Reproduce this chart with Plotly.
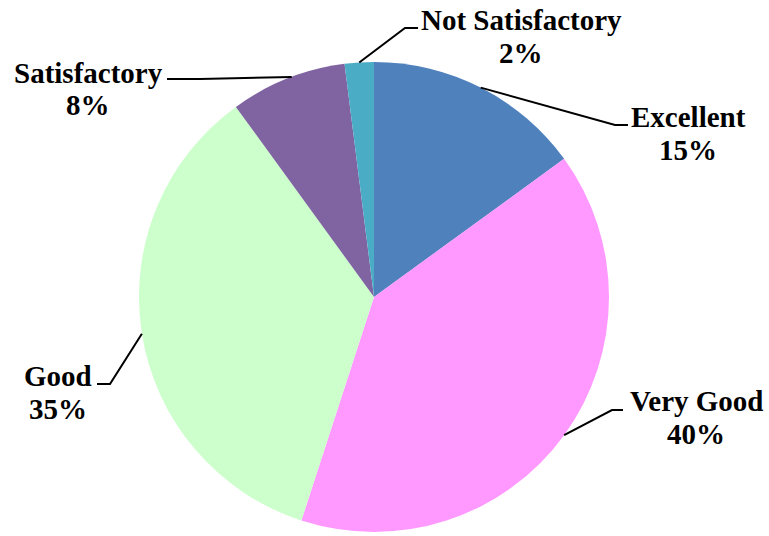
import math
import plotly.graph_objects as go

categories = ["Excellent", "Very Good", "Good", "Satisfactory", "Not Satisfactory"]
values = [15, 40, 35, 8, 2]
colors = ["#4F81BD", "#FF99FF", "#CCFFCC", "#8064A2", "#4BACC6"]

W, H = 769, 536
CX, CY, R = 374, 297, 235

# label layout (pixels): name centre, percent centre, elbow point, line end, anchor angle override
label_layout = {
    "Excellent":        dict(name=(688, 117), pct=(688, 150), elbow=(615, 125), end=(628, 125), ang=None),
    "Very Good":        dict(name=(696, 401), pct=(696, 434), elbow=(612, 410), end=(623, 410), ang=None),
    "Good":             dict(name=(58, 376),  pct=(58, 409),  elbow=(110, 384), end=(97, 384),  ang=None),
    "Satisfactory":     dict(name=(88, 73),   pct=(88, 105),  elbow=(200, 79),  end=(167, 79),  ang=339.5),
    "Not Satisfactory": dict(name=(521, 20),  pct=(521, 53),  elbow=(405, 28),  end=(418, 28),  ang=None),
}

def px2paper(x, y):
    return x / W, 1 - y / H

fig = go.Figure(go.Pie(
    labels=categories, values=values, sort=False, direction="clockwise", rotation=0,
    marker=dict(colors=colors, line=dict(width=0)),
    textinfo="none", hoverinfo="label+percent", showlegend=False,
    domain=dict(x=[(CX - R) / W, (CX + R) / W], y=[1 - (CY + R) / H, 1 - (CY - R) / H]),
))

font = dict(family="Liberation Serif", size=29, color="black")
total = sum(values)
cum = 0
annotations, shapes = [], []
for cat, v in zip(categories, values):
    mid = (cum + v / 2) / total * 360
    cum += v
    L = label_layout[cat]
    ang = L["ang"] if L["ang"] is not None else mid
    sx = CX + R * math.sin(math.radians(ang))
    sy = CY - R * math.cos(math.radians(ang))
    pts = [(sx, sy), L["elbow"], L["end"]]
    path = "M " + " L ".join(f"{px2paper(x, y)[0]},{px2paper(x, y)[1]}" for x, y in pts)
    shapes.append(dict(type="path", path=path, xref="paper", yref="paper",
                       line=dict(color="black", width=2)))
    pct = f"{round(v / total * 100)}%"
    for txt, pos in ((cat, L["name"]), (pct, L["pct"])):
        x, y = px2paper(*pos)
        annotations.append(dict(text=f"<b>{txt}</b>", x=x, y=y, xref="paper", yref="paper",
                                showarrow=False, font=font, xanchor="center", yanchor="middle"))

fig.update_layout(width=W, height=H, margin=dict(l=0, r=0, t=0, b=0),
                  paper_bgcolor="white", plot_bgcolor="white",
                  annotations=annotations, shapes=shapes)
fig.write_html("out.html", config={"displayModeBar": False},
               post_script="document.body.style.margin='0';")
